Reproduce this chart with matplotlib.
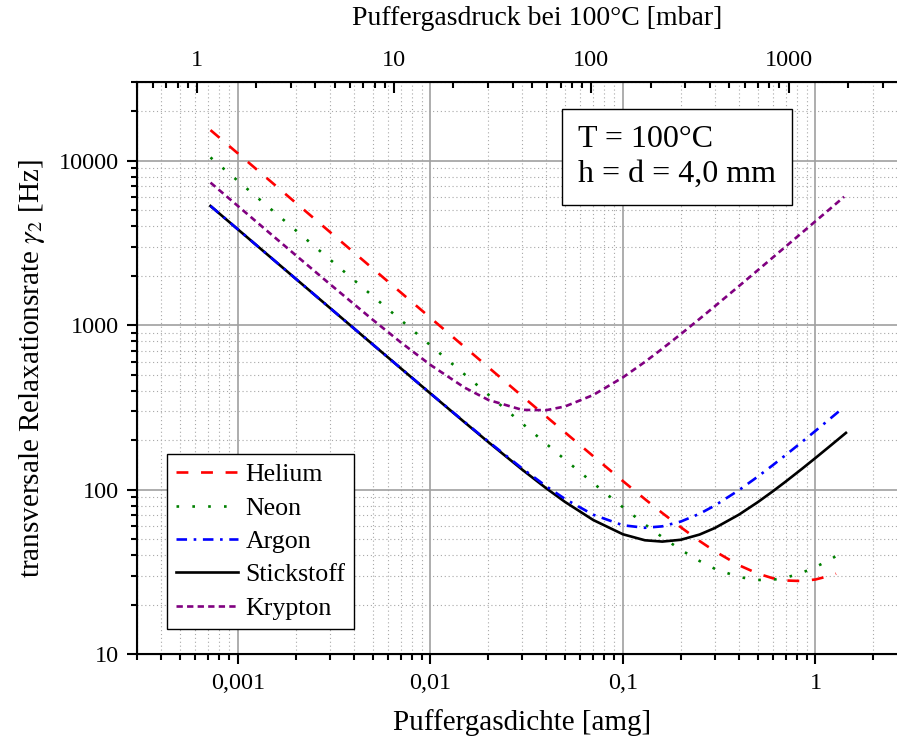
import numpy as np
import matplotlib
matplotlib.use('Agg')
import matplotlib.pyplot as plt
from matplotlib.ticker import FixedLocator, NullFormatter

plt.rcParams['font.family'] = ['Liberation Serif', 'DejaVu Serif']
plt.rcParams['mathtext.fontset'] = 'stix'

# Puffergasdichte [amg], gemeinsame Stuetzstellen
dichte = [0.00072, 0.001, 0.0015, 0.002, 0.003, 0.005, 0.007, 0.01, 0.015, 0.02,
          0.03, 0.04, 0.05, 0.07, 0.1, 0.13, 0.16, 0.2, 0.25, 0.3,
          0.4, 0.5, 0.6, 0.7, 0.85, 1.0, 1.2]
# letzter Punkt jeder Kurve (He, Ne, Ar, N2, Kr)
dichte_ende = [1.28, 1.39, 1.33, 1.44, 1.41]

helium = [15400, 11100, 7400, 5550, 3700, 2220, 1586, 1110, 740, 555,
          370, 278, 223, 160, 112.7, 87.6, 72.1, 59.0, 48.7, 42.2,
          34.7, 30.9, 28.9, 28.0, 27.8, 28.4, 30.0, 30.8]
neon = [10500, 7550, 5033, 3775, 2517, 1510, 1079, 755, 504, 378,
        252.5, 189.8, 152.3, 109.7, 78.1, 61.5, 51.4, 43.0, 36.8, 33.0,
        29.4, 28.2, 28.3, 29.1, 31.2, 33.8, 37.7, 41.9]
argon = [5320, 3830, 2554, 1915, 1277, 767, 548.7, 385.2, 258.7, 196.0,
         134.4, 104.7, 87.8, 70.4, 60.7, 58.6, 59.8, 64.0, 71.3, 80.0,
         99.2, 119.7, 140.8, 162.3, 194.9, 227.8, 272, 300.8]
stickstoff = [5320, 3830, 2553, 1915, 1277, 766.8, 548.2, 384.5, 257.6, 194.5,
              132.2, 101.8, 84.2, 65.4, 53.5, 49.2, 48.3, 49.55, 53.3, 58.4,
              70.4, 83.7, 97.6, 111.9, 133.7, 155.8, 185.6, 221.5]
krypton = [7378, 5314, 3546, 2664, 1783, 1083.5, 788.6, 573.9, 418.4, 351.3,
           305.7, 304.4, 320.7, 376.2, 482.1, 598.5, 719.6, 884.6, 1093.7, 1304.7,
           1729.3, 2155.6, 2583, 3011, 3653, 4295, 5152, 6053]

namen = ['Helium', 'Neon', 'Argon', 'Stickstoff', 'Krypton']
farben = ['#ff0000', '#008000', '#0000ff', '#000000', '#800080']
stile = [(0, (4.5, 4.8)), (0, (1, 5)), (0, (4, 2.5, 1, 2.5)), '-', (0, (2.4, 1.6))]
ebenen = [3, 3, 5, 4, 3]
kurven = [helium, neon, argon, stickstoff, krypton]

fig = plt.figure(figsize=(8.97, 7.40), dpi=100)
ax = fig.add_axes([137.3/897, 86/740, 770/897, 571.5/740])

for name, c, ls, z, y, xe in zip(namen, farben, stile, ebenen, kurven, dichte_ende):
	ax.plot(dichte + [xe], y, c=c, ls=ls, lw=1.9, label=name, zorder=z)

ax.set_xscale('log')
ax.set_yscale('log')
ax.set_xlim(0.0003, 3)
ax.set_ylim(10, 30000)

ax.xaxis.set_major_locator(FixedLocator([0.001, 0.01, 0.1, 1]))
ax.set_xticklabels(['0,001', '0,01', '0,1', '1'])
xminor = [m * 10.0**e for e in range(-4, 1) for m in range(2, 10)]
ax.xaxis.set_minor_locator(FixedLocator(xminor))
ax.xaxis.set_minor_formatter(NullFormatter())
ax.yaxis.set_major_locator(FixedLocator([10, 100, 1000, 10000]))
ax.set_yticklabels(['10', '100', '1000', '10000'])
yminor = [m * 10.0**e for e in range(1, 5) for m in range(2, 10)]
ax.yaxis.set_minor_locator(FixedLocator(yminor))
ax.yaxis.set_minor_formatter(NullFormatter())

ax.grid(True, which='major', color='#a0a0a0', lw=1.2, ls='-')
ax.grid(True, which='minor', color='#a8a8a8', lw=0.8, ls=(0, (1, 2.5)))
ax.set_axisbelow(True)

ax.tick_params(which='both', direction='out', width=1.5, labelsize=17.5)
ax.tick_params(which='major', length=7.5, pad=6)
ax.tick_params(which='minor', length=4)
ax.tick_params(axis='y', which='both', right=True)
for sp in ax.spines.values():
	sp.set_linewidth(1.5)

ax.set_xlabel('Puffergasdichte [amg]', fontsize=21, labelpad=11)
ax.set_ylabel(r'transversale Relaxationsrate $\gamma_2$ [Hz]', fontsize=21, labelpad=8)

# obere Achse: Druck
ax2 = ax.twiny()
ax2.set_xscale('log')
ax2.set_xlim(0.5, 4000)
ax2.xaxis.set_major_locator(FixedLocator([1, 10, 100, 1000]))
ax2.set_xticklabels(['1', '10', '100', '1000'])
pminor = [m * 10.0**e for e in range(-1, 4) for m in range(2, 10)]
ax2.xaxis.set_minor_locator(FixedLocator(pminor))
ax2.xaxis.set_minor_formatter(NullFormatter())
ax2.tick_params(which='both', direction='in', width=1.5, labelsize=17.5)
ax2.tick_params(which='major', length=8, pad=8)
ax2.tick_params(which='minor', length=4)
ax2.set_xlabel('Puffergasdruck bei 100°C [mbar]', fontsize=20)
ax2.xaxis.label.set_va('bottom')
ax2.xaxis.set_label_coords(0.519, 1.09)

leg = ax.legend(loc='lower left', bbox_to_anchor=(0.038, 0.044), fontsize=18.6,
                handlelength=2.4, handletextpad=0.3, labelspacing=0.4,
                borderpad=0.35, borderaxespad=0, fancybox=False, framealpha=1)
leg.get_frame().set_edgecolor('black')
leg.get_frame().set_linewidth(1.0)

ax.text(0.572, 0.926, 'T = 100°C\nh = d = 4,0 mm', transform=ax.transAxes,
        fontsize=23, va='top', ha='left', linespacing=1.28,
        bbox=dict(boxstyle='square,pad=0.5', fc='white', ec='black', lw=1.0))

fig.savefig('out.png', dpi=100)
